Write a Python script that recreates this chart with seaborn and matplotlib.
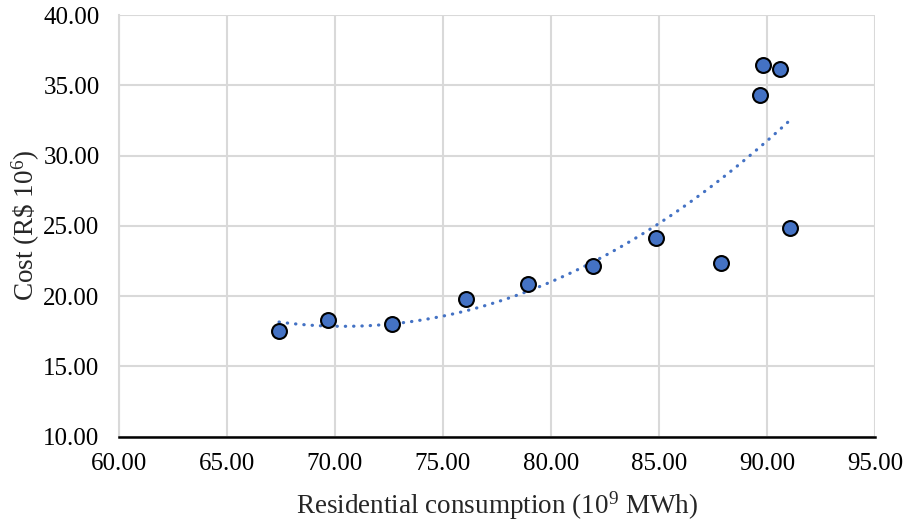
import numpy as np
import pandas as pd
import matplotlib
matplotlib.use("Agg")
import matplotlib.pyplot as plt
import seaborn as sns

# Data
consumption = [67.41, 69.69, 72.62, 76.05, 78.95, 81.93, 84.85, 87.85, 89.68, 89.80, 90.60, 91.06]
cost = [17.52, 18.30, 17.99, 19.82, 20.88, 22.16, 24.11, 22.38, 34.30, 36.44, 36.15, 24.82]
x_ticks = [60, 65, 70, 75, 80, 85, 90, 95]
y_ticks = [10, 15, 20, 25, 30, 35, 40]

sns.set_theme(style="white")
plt.rcParams['font.family'] = ['Liberation Serif', 'DejaVu Serif']
plt.rcParams['mathtext.fontset'] = 'custom'
plt.rcParams['mathtext.rm'] = 'Liberation Serif'
plt.rcParams['mathtext.it'] = 'Liberation Serif'

df = pd.DataFrame({"x": consumption, "y": cost})

# Polynomial (order 2) trendline, as in the spreadsheet
coef = np.polyfit(df["x"], df["y"], 2)
xt = np.linspace(min(consumption), max(consumption), 200)
trend = pd.DataFrame({"x": xt, "y": np.polyval(coef, xt)})

fig = plt.figure(figsize=(9.04, 5.22), dpi=100)
ax = fig.add_axes([119/904, 1 - 436.7/522, (875-119)/904, (436.7-15)/522])

blue = "#4472C4"
sns.lineplot(data=trend, x="x", y="y", ax=ax, color=blue, linewidth=2.3,
             linestyle=(0, (0.1, 2.5)), dash_capstyle="round", zorder=2)
sns.scatterplot(data=df, x="x", y="y", ax=ax, color=blue, edgecolor="black",
                linewidth=1.5, s=115, zorder=3)

ax.set_xlim(60, 95)
ax.set_ylim(10, 40)
ax.set_xticks(x_ticks)
ax.set_yticks(y_ticks)
ax.set_xticklabels([f"{v:.2f}" for v in x_ticks], fontsize=18)
ax.set_yticklabels([f"{v:.2f}" for v in y_ticks], fontsize=18)
ax.grid(True, color="#d9d9d9", linewidth=1.5, zorder=0)
ax.set_axisbelow(True)
for s in ["top", "right"]:
    ax.spines[s].set_visible(False)
ax.spines["left"].set_color("#d9d9d9")
ax.spines["left"].set_linewidth(1.5)
ax.spines["bottom"].set_color("black")
ax.spines["bottom"].set_linewidth(1.8)
ax.tick_params(axis="y", length=0, pad=14, colors="black")
ax.tick_params(axis="x", length=0, pad=12, colors="black")

ax.set_xlabel("Residential consumption (10$^9$ MWh)", fontsize=19.5, labelpad=10)
ax.set_ylabel("Cost (R\\$ 10$^6$)", fontsize=19.5, labelpad=1)

fig.savefig("out.png", dpi=100)
